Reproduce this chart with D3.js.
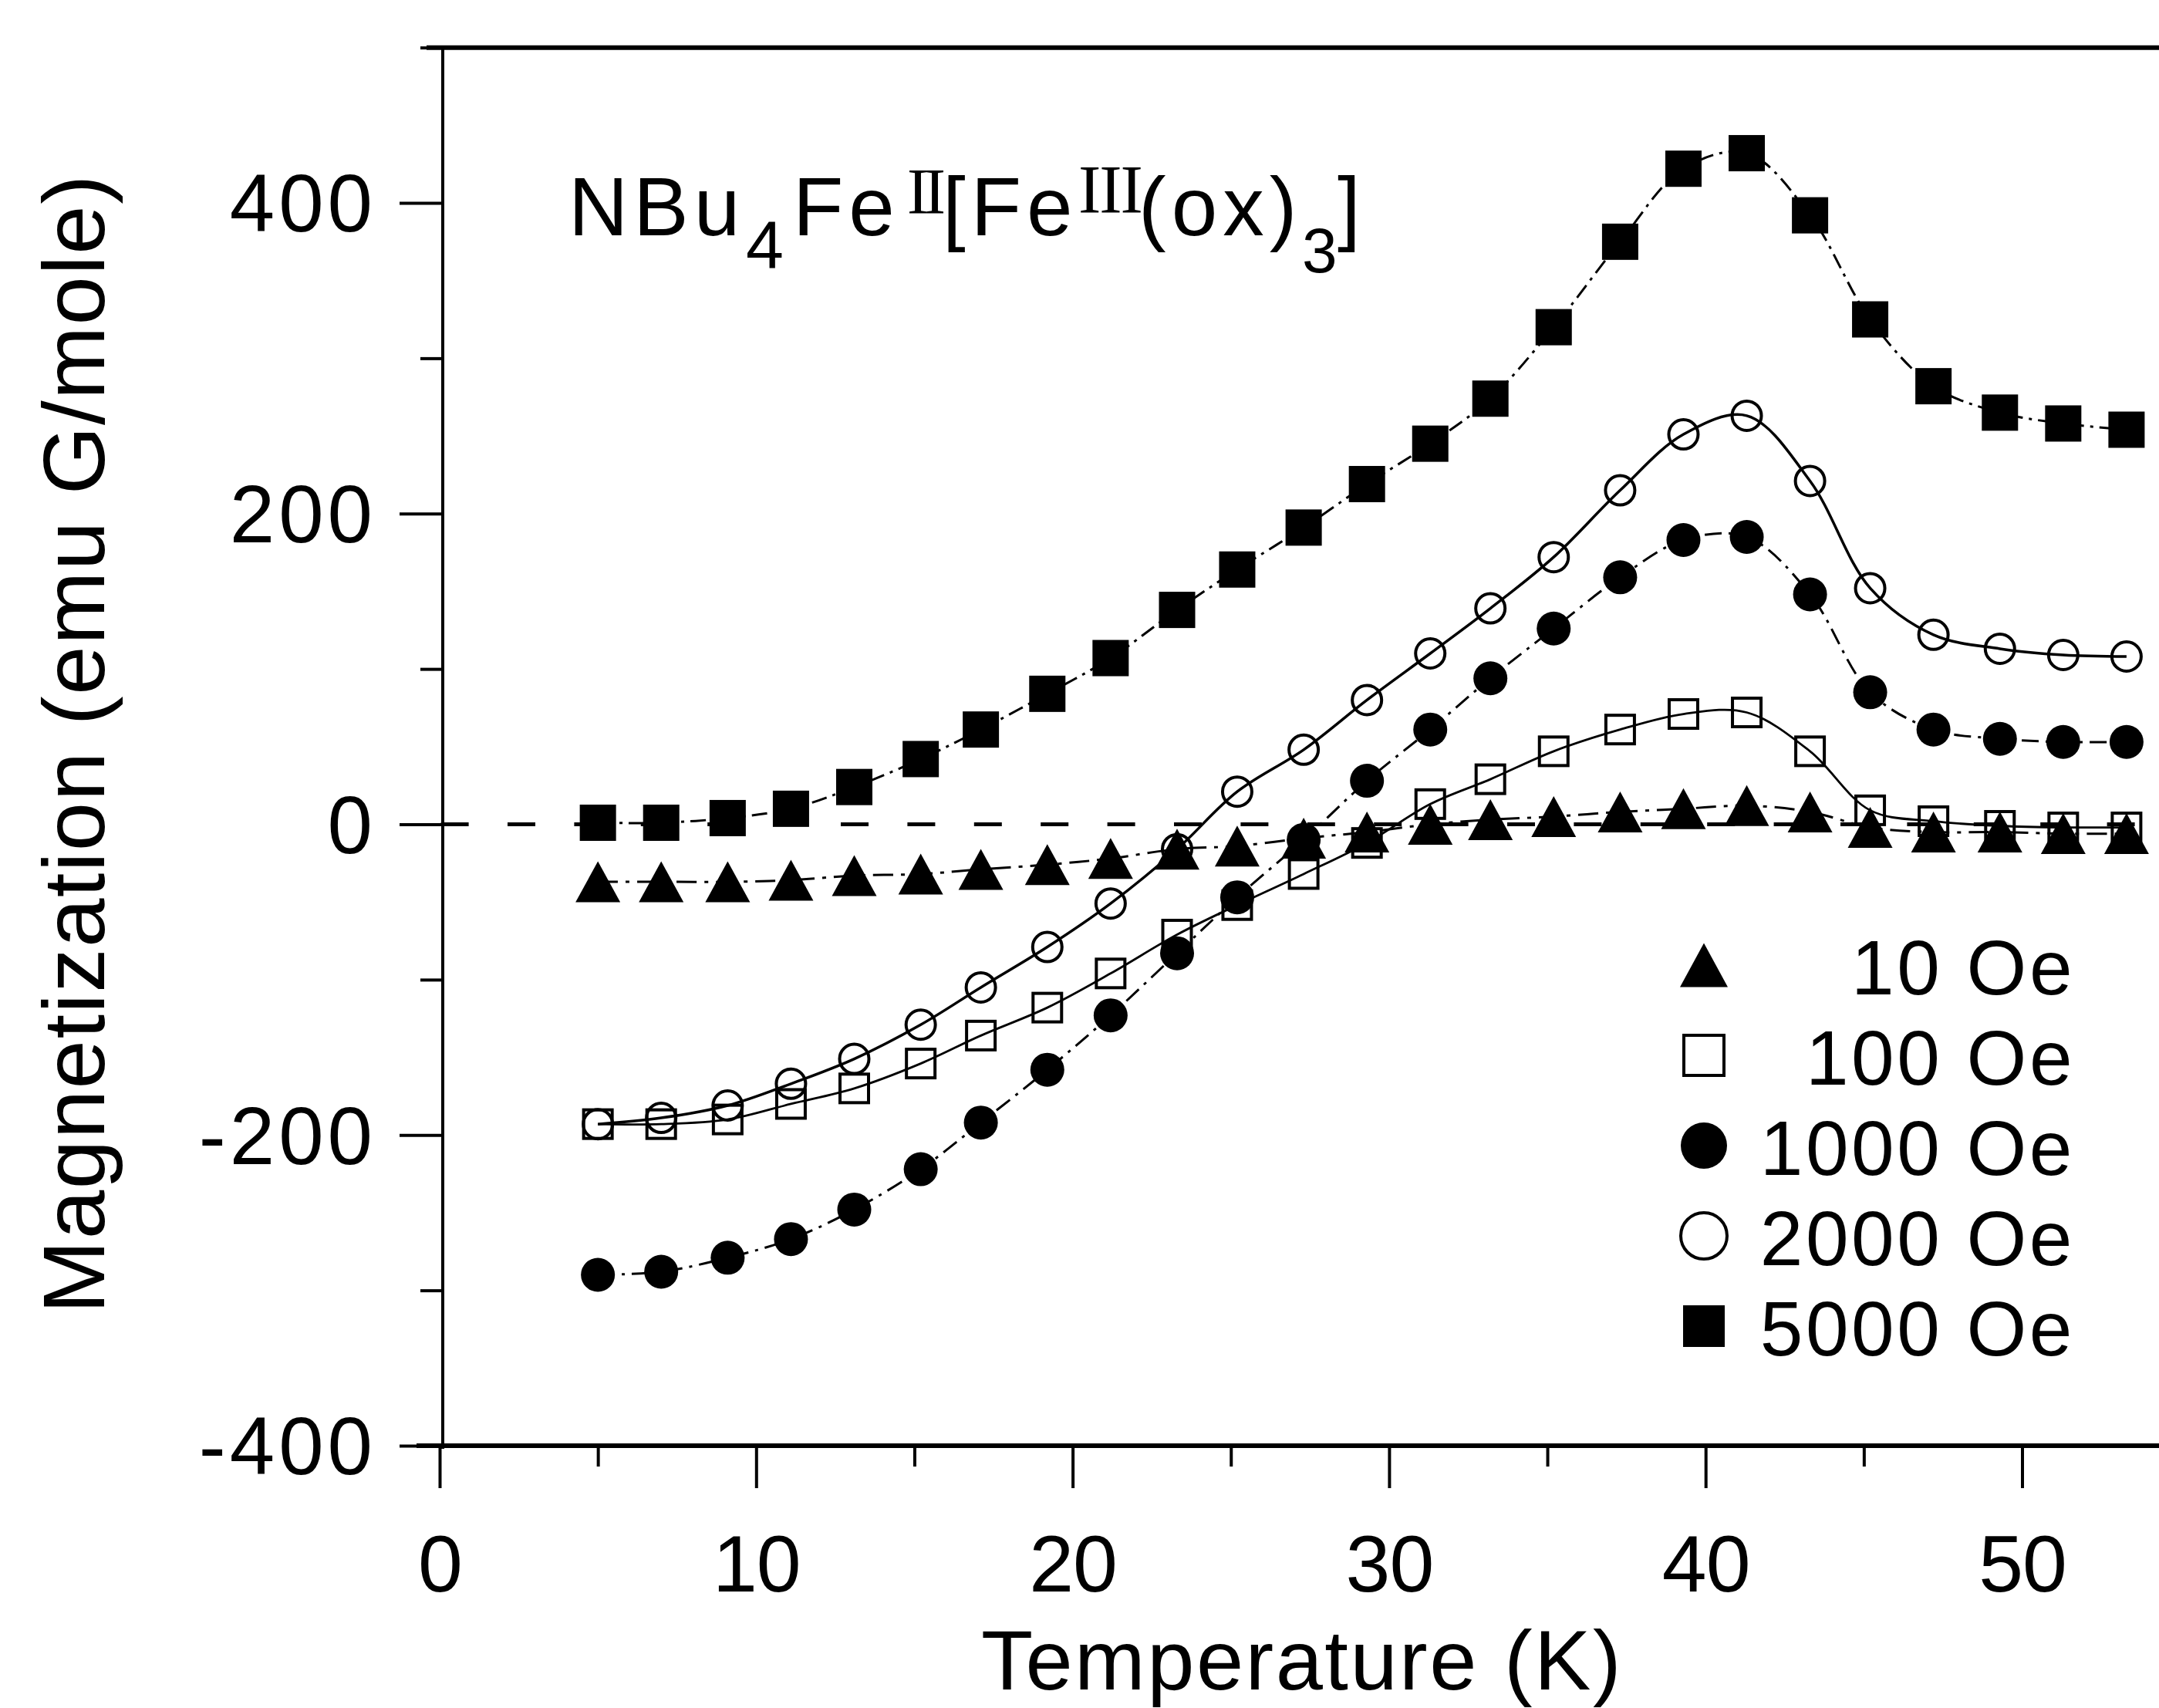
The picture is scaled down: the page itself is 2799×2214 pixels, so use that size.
<!DOCTYPE html>
<html>
<head>
<meta charset="utf-8">
<script src="https://cdn.jsdelivr.net/npm/d3@7"></script>
<style>
  body { margin: 0; background: #fff; }
  .chart text { font-family: "Liberation Sans", Arial, sans-serif; fill: #000; }
</style>
</head>
<body>
<div class="chart"></div>
<script>
// temperatures (K)
const temps = [5.0, 7.0, 9.1, 11.1, 13.1, 15.2, 17.1, 19.2, 21.2, 23.3, 25.2, 27.3, 29.3,
               31.3, 33.2, 35.2, 37.3, 39.3, 41.3, 43.3, 45.2, 47.2, 49.3, 51.3, 53.3];

// magnetization (emu G/mole) for each field
const m10   = [-37, -37, -37, -36, -33, -32, -29, -26, -22, -16, -14, -9, -5,
               0, 3, 5, 8, 10, 12, 8, -2, -5, -5, -6, -6];
const m100  = [-193, -193, -190, -180, -170, -154, -136, -118, -96, -71, -52, -32, -12,
               13, 29, 47, 61, 71, 72, 47, 9, 2, -1, -2, -2];
const m1000 = [-290, -288, -279, -267, -248, -222, -192, -158, -123, -83, -47, -10, 28,
               61, 94, 126, 159, 183, 185, 148, 85, 61, 55, 53, 53];
const m2000 = [-193, -189, -181, -167, -151, -129, -105, -79, -51, -16, 21, 48, 80,
               110, 139, 172, 215, 251, 263, 221, 152, 122, 113, 109, 108];
const m5000 = [1, 1, 4, 10, 24, 42, 61, 84, 107, 138, 164, 191, 219,
               245, 274, 320, 375, 422, 432, 392, 325, 282, 265, 258, 254];

const fieldLabels = ["10 Oe", "100 Oe", "1000 Oe", "2000 Oe", "5000 Oe"];
const xTicks = [0, 10, 20, 30, 40, 50];
const xMinor = [5, 15, 25, 35, 45, 55];
const yTicks = [-400, -200, 0, 200, 400];
const yMinor = [-300, -100, 100, 300, 500];

const W = 2799, H = 2214;

const svg = d3.select(".chart").append("svg")
    .attr("width", W)
    .attr("height", H);

svg.append("rect").attr("width", W).attr("height", H).attr("fill", "#fff");

// scales (the plot runs off the right edge like the scan)
const x = d3.scaleLinear().domain([0, 60]).range([570, 570 + 60 * 41.03]);
const y = d3.scaleLinear().domain([-400, 500]).range([1874, 1874 - 900 * 2.01375]);
const axisX = 574;

//series setup
const series = [
  {label: fieldLabels[4], vals: m5000, shape: "fsquare", dash: "20,8,4,8", w: 3},
  {label: fieldLabels[3], vals: m2000, shape: "ocircle", dash: null, w: 3.5},
  {label: fieldLabels[2], vals: m1000, shape: "fcircle", dash: "22,9,4,9", w: 3},
  {label: fieldLabels[1], vals: m100, shape: "osquare", dash: null, w: 2.8},
  {label: fieldLabels[0], vals: m10, shape: "triangle", dash: "26,10,5,10", w: 3}
];

const markerSize = {fsquare: 47, ocircle: 42, fcircle: 44, osquare: 41, triangle: [58, 53]};
const legendSize = {fsquare: 54, ocircle: 64, fcircle: 60, osquare: 56, triangle: [62, 57]};

function drawMarker(sel, shape, s) {
  if (shape === "fsquare") {
    sel.append("rect").attr("x", -s / 2).attr("y", -s / 2).attr("width", s).attr("height", s)
       .attr("fill", "#000");
  } else if (shape === "osquare") {
    sel.append("rect").attr("x", -s / 2 + 2).attr("y", -s / 2 + 2).attr("width", s - 4).attr("height", s - 4)
       .attr("fill", "none").attr("stroke", "#000").attr("stroke-width", 4);
  } else if (shape === "fcircle") {
    sel.append("circle").attr("r", s / 2).attr("fill", "#000");
  } else if (shape === "ocircle") {
    sel.append("circle").attr("r", s / 2 - 2).attr("fill", "none")
       .attr("stroke", "#000").attr("stroke-width", 4);
  } else {
    const [w, h] = s;
    sel.append("path").attr("d", `M0,${-h / 2}L${w / 2},${h / 2}L${-w / 2},${h / 2}Z`)
       .attr("fill", "#000");
  }
}

// frame: top border, left and bottom axis lines
svg.append("line").attr("x1", 553).attr("x2", W).attr("y1", y(500)).attr("y2", y(500))
   .attr("stroke", "#000").attr("stroke-width", 6);
svg.append("line").attr("x1", axisX).attr("x2", axisX).attr("y1", y(500)).attr("y2", y(-400) + 4)
   .attr("stroke", "#000").attr("stroke-width", 4);
svg.append("line").attr("x1", 540).attr("x2", W).attr("y1", y(-400)).attr("y2", y(-400))
   .attr("stroke", "#000").attr("stroke-width", 6);

// y axis ticks
const yAxis = svg.append("g").attr("transform", `translate(${axisX},0)`)
   .call(d3.axisLeft(y).tickValues(yTicks).tickSize(56).tickPadding(30)
        .tickFormat(d3.format("d")));
const yAxisMinor = svg.append("g").attr("transform", `translate(${axisX},0)`)
   .call(d3.axisLeft(y).tickValues(yMinor).tickSize(29).tickFormat(""));

// x axis ticks
const xAxis = svg.append("g").attr("transform", `translate(0,${y(-400)})`)
   .call(d3.axisBottom(x).tickValues(xTicks).tickSize(55).tickPadding(60));
const xAxisMinor = svg.append("g").attr("transform", `translate(0,${y(-400)})`)
   .call(d3.axisBottom(x).tickValues(xMinor).tickSize(27).tickFormat(""));

[yAxis, yAxisMinor, xAxis, xAxisMinor].forEach(function(g) {
  g.select(".domain").remove();
  g.selectAll(".tick line").attr("stroke", "#000").attr("stroke-width", 4);
});

yAxis.selectAll("text")
   .attr("font-size", 105).attr("letter-spacing", 5)
   .attr("dy", "0.35em").attr("fill", "#000")
   .text(d => d < 0 ? "-" + Math.abs(d) : d);

xAxis.selectAll("text")
   .attr("font-size", 104).attr("letter-spacing", -1)
   .attr("dy", "0.71em").attr("fill", "#000");

// dashed zero line
svg.append("line")
   .attr("x1", 571.6).attr("x2", W)
   .attr("y1", y(0)).attr("y2", y(0))
   .attr("stroke", "#000").attr("stroke-width", 5)
   .attr("stroke-dasharray", "36,50.4");

// curves and markers
const line = d3.line()
   .x(d => x(d.t))
   .y(d => y(d.v))
   .curve(d3.curveCatmullRom.alpha(0.5));

series.forEach(function(s) {
  const pts = temps.map((t, i) => ({t: t, v: s.vals[i]}));
  svg.append("path")
     .datum(pts)
     .attr("d", line)
     .attr("fill", "none")
     .attr("stroke", "#000")
     .attr("stroke-width", s.w)
     .attr("stroke-dasharray", s.dash);

  svg.append("g").selectAll("g")
     .data(pts)
     .enter()
     .append("g")
     .attr("transform", d => `translate(${x(d.t)},${y(d.v)})`)
     .each(function() { drawMarker(d3.select(this), s.shape, markerSize[s.shape]); });
});

// legend
const legendRows = [
  {label: fieldLabels[0], shape: "triangle", base: 1289},
  {label: fieldLabels[1], shape: "osquare", base: 1406},
  {label: fieldLabels[2], shape: "fcircle", base: 1523},
  {label: fieldLabels[3], shape: "ocircle", base: 1640},
  {label: fieldLabels[4], shape: "fsquare", base: 1757}
];

const legend = svg.append("g");
legendRows.forEach(function(r) {
  const g = legend.append("g").attr("transform", `translate(2209,${r.base - 38})`);
  drawMarker(g, r.shape, legendSize[r.shape]);
  legend.append("text")
     .attr("x", 2690).attr("y", r.base)
     .attr("text-anchor", "end")
     .attr("font-size", 100)
     .attr("letter-spacing", 3.5)
     .text(r.label);
});

// compound label
const serif = "'Liberation Serif', 'Times New Roman', serif";
const title = svg.append("text").attr("font-size", 107).attr("letter-spacing", 7);
title.append("tspan").attr("x", 737).attr("y", 305).text("NBu");
title.append("tspan").attr("x", 967).attr("y", 348).attr("font-size", 88).attr("letter-spacing", 0).text("4");
title.append("tspan").attr("x", 1028).attr("y", 305).text("Fe");
title.append("tspan").attr("x", 1176).attr("y", 277)
   .style("font-family", serif)
   .attr("font-size", 84).attr("letter-spacing", -6).text("II");
title.append("tspan").attr("x", 1222).attr("y", 305).text("[Fe");
title.append("tspan").attr("x", 1398).attr("y", 275)
   .style("font-family", serif)
   .attr("font-size", 88).attr("letter-spacing", -2).text("III");
title.append("tspan").attr("x", 1476).attr("y", 305).text("(ox)");
title.append("tspan").attr("x", 1688).attr("y", 353).attr("font-size", 82).attr("letter-spacing", 0).text("3");
title.append("tspan").attr("x", 1734).attr("y", 305).text("]");

// axis titles
svg.append("text")
   .attr("x", 1688).attr("y", 2190)
   .attr("text-anchor", "middle")
   .attr("font-size", 110)
   .attr("letter-spacing", 2.5)
   .text("Temperature (K)");

svg.append("text")
   .attr("transform", "translate(135,964) rotate(-90)")
   .attr("text-anchor", "middle")
   .attr("font-size", 114)
   .attr("letter-spacing", 1.5)
   .text("Magnetization (emu G/mole)");
</script>
</body>
</html>
